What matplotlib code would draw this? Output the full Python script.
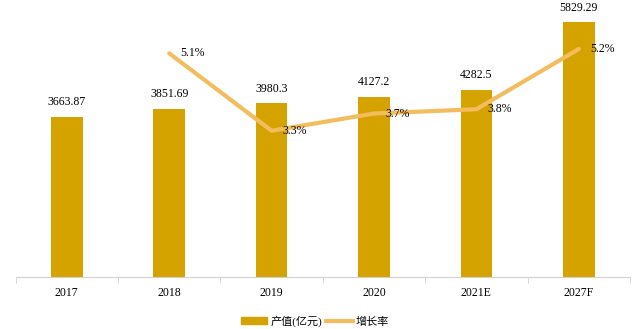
import matplotlib.pyplot as plt
import numpy as np
from matplotlib.lines import Line2D
from matplotlib.patches import Patch

years = ["2017", "2018", "2019", "2020", "2021E", "2027F"]
output_value = [3663.87, 3851.69, 3980.3, 4127.2, 4282.5, 5829.29]
value_labels = ["3663.87", "3851.69", "3980.3", "4127.2", "4282.5", "5829.29"]
growth_years = ["2018", "2019", "2020", "2021E", "2027F"]
growth_rate = [5.1, 3.3, 3.7, 3.8, 5.2]

bar_color = "#D4A300"
line_color = "#F3BD5F"

plt.rcParams["font.family"] = ["Liberation Serif", "Noto Sans CJK SC"]

fig = plt.figure(figsize=(6.43, 3.29), dpi=100)
ax = fig.add_axes([15.6 / 643, 1 - 277 / 329, (630 - 15.6) / 643, (277 - 14.6) / 329])

x = np.arange(len(years))
ax.bar(x, output_value, width=0.31, color=bar_color, zorder=2)
for xi, v, lab in zip(x, output_value, value_labels):
    ax.annotate(lab, (xi, v), xytext=(0, 6), textcoords="offset points",
                ha="center", va="bottom", fontsize=8.5)

ax.set_xlim(-0.5, len(years) - 0.5)
ax.set_ylim(0, 6000)
ax.set_yticks([])
for s in ["top", "right", "left"]:
    ax.spines[s].set_visible(False)
ax.spines["bottom"].set_color("#d0d0d0")
ax.set_xticks(x)
ax.set_xticklabels(years, fontsize=8.5)
ax.tick_params(axis="x", length=0, pad=7)
ax.set_xticks(np.arange(len(years) + 1) - 0.5, minor=True)
ax.tick_params(axis="x", which="minor", length=4, color="#d0d0d0")

ax2 = ax.twinx()
gx = [years.index(g) for g in growth_years]
ax2.plot(gx, growth_rate, color=line_color, lw=3, solid_capstyle="round", zorder=3)
for xi, r in zip(gx, growth_rate):
    ax2.annotate(f"{r}%", (xi, r), xytext=(8, 0), textcoords="offset points",
                 ha="left", va="center", fontsize=8.5)
ax2.set_ylim(-0.1, 6.0)
ax2.set_yticks([])
for s in ["top", "right", "left", "bottom"]:
    ax2.spines[s].set_visible(False)

handles = [Patch(color=bar_color), Line2D([0], [0], color=line_color, lw=3)]
fig.legend(handles, ["产值(亿元)", "增长率"], loc="center", bbox_to_anchor=(315 / 643, 1 - 321 / 329),
           ncol=2, frameon=False, fontsize=8, handlelength=2.4, handleheight=0.6,
           columnspacing=0.3, handletextpad=0.3)

fig.savefig("out.png", dpi=100)
